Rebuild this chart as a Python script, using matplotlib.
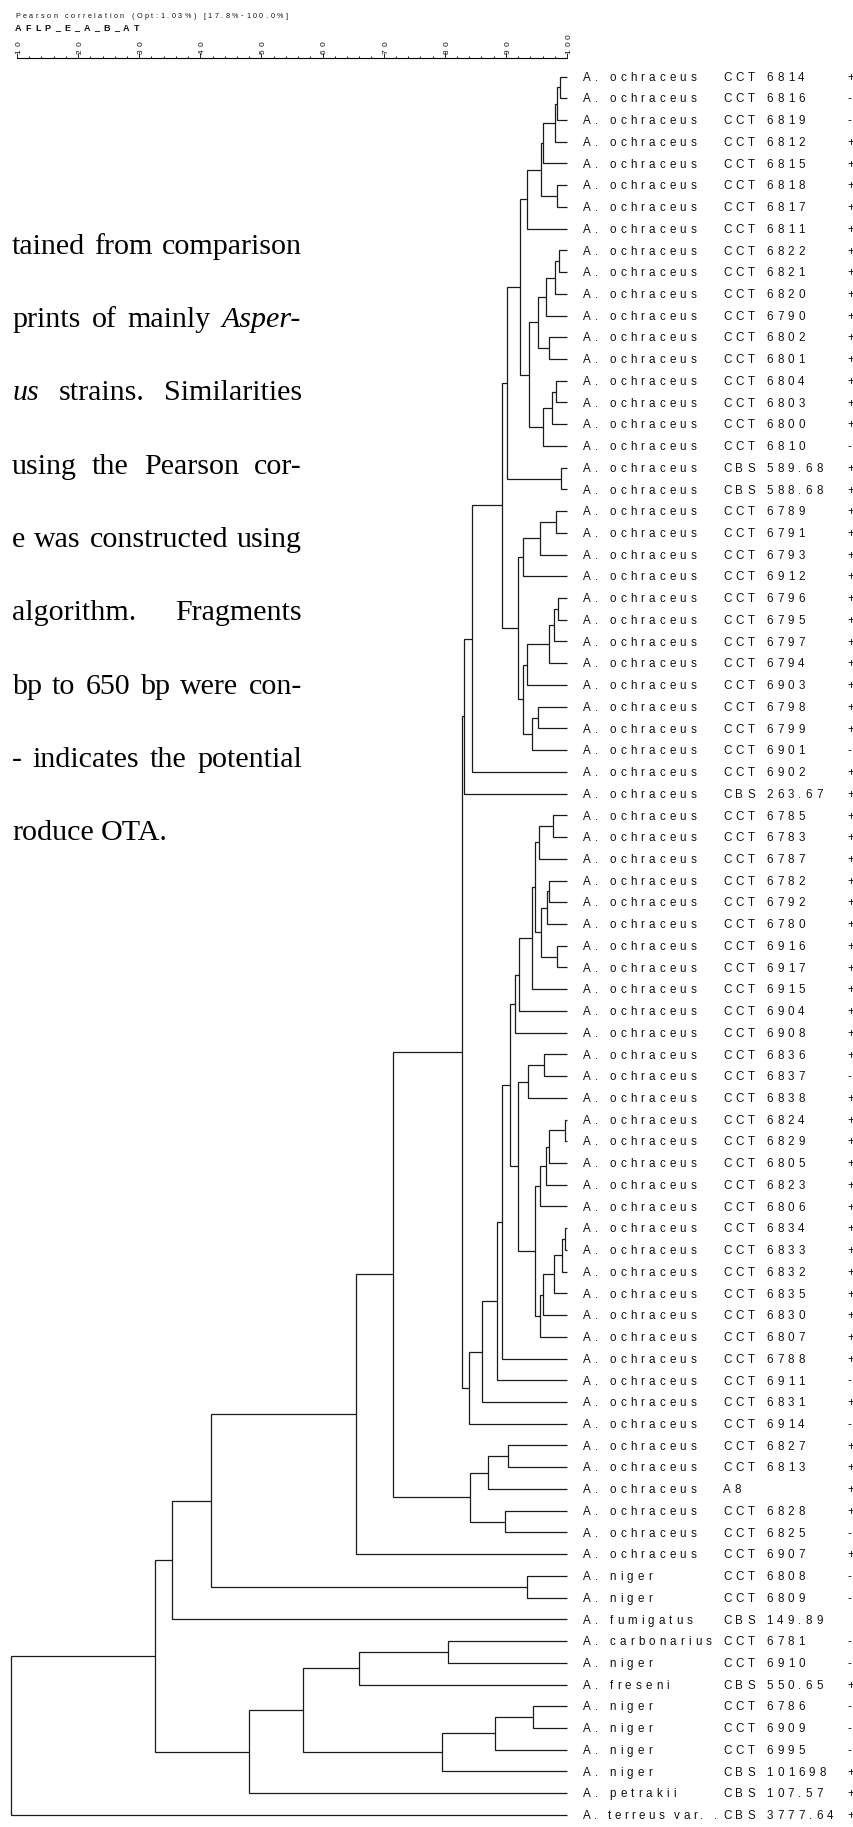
import matplotlib
matplotlib.use("Agg")
import matplotlib.pyplot as plt
from matplotlib import font_manager
from matplotlib.font_manager import FontProperties
from matplotlib.ft2font import FT2Font
from matplotlib.transforms import Affine2D

W, H, DPI = 854, 1827, 100
SANS = "Liberation Sans"
SERIF = "Liberation Serif"

# ---- leaves, top to bottom ----
species = ["A. ochraceus"] * 69 + [
    "A. niger", "A. niger", "A. fumigatus", "A. carbonarius", "A. niger",
    "A. freseni", "A. niger", "A. niger", "A. niger", "A. niger",
    "A. petrakii", "A. terreus var. ."]
strains = [
    "CCT 6814", "CCT 6816", "CCT 6819", "CCT 6812", "CCT 6815", "CCT 6818", "CCT 6817",
    "CCT 6811", "CCT 6822", "CCT 6821", "CCT 6820", "CCT 6790", "CCT 6802", "CCT 6801",
    "CCT 6804", "CCT 6803", "CCT 6800", "CCT 6810", "CBS 589.68", "CBS 588.68",
    "CCT 6789", "CCT 6791", "CCT 6793", "CCT 6912", "CCT 6796", "CCT 6795", "CCT 6797",
    "CCT 6794", "CCT 6903", "CCT 6798", "CCT 6799", "CCT 6901", "CCT 6902", "CBS 263.67",
    "CCT 6785", "CCT 6783", "CCT 6787", "CCT 6782", "CCT 6792", "CCT 6780", "CCT 6916",
    "CCT 6917", "CCT 6915", "CCT 6904", "CCT 6908", "CCT 6836", "CCT 6837", "CCT 6838",
    "CCT 6824", "CCT 6829", "CCT 6805", "CCT 6823", "CCT 6806", "CCT 6834", "CCT 6833",
    "CCT 6832", "CCT 6835", "CCT 6830", "CCT 6807", "CCT 6788", "CCT 6911", "CCT 6831",
    "CCT 6914", "CCT 6827", "CCT 6813", "A8", "CCT 6828", "CCT 6825", "CCT 6907",
    "CCT 6808", "CCT 6809", "CBS 149.89", "CCT 6781", "CCT 6910", "CBS 550.65",
    "CCT 6786", "CCT 6909", "CCT 6995", "CBS 101698", "CBS 107.57", "CBS 3777.64"]
ota = ["+", "-", "-", "+", "+", "+", "+", "+", "+", "+",
       "+", "+", "+", "+", "+", "+", "+", "-", "+", "+",
       "+", "+", "+", "+", "+", "+", "+", "+", "+", "+",
       "+", "-", "+", "+", "+", "+", "+", "+", "+", "+",
       "+", "+", "+", "+", "+", "+", "-", "+", "+", "+",
       "+", "+", "+", "+", "+", "+", "+", "+", "+", "+",
       "-", "+", "-", "+", "+", "+", "+", "-", "+", "-",
       "-", "", "-", "-", "+", "-", "-", "-", "+", "+", "+"]

# ---- cluster joins (leaf rows are 1-based ints), similarity in % ----
merge_name = ["a1", "a2", "a3", "a4", "a5", "a6", "a7", "b1", "b2", "b3", "b4", "b5",
              "c1", "c2", "c3", "b6", "a8", "d1", "a9", "e1", "e2", "e3", "f1", "f2",
              "f3", "f4", "g1", "g2", "f5", "e4", "a10", "a11", "a12",
              "h1", "h2", "i1", "i2", "j1", "i3", "h3", "h4", "h5", "h6", "k1", "k2",
              "m1", "m2", "m3", "m4", "n1", "n2", "n3", "n4", "n5", "m5", "k3", "h7",
              "h8", "h9", "h10", "h11", "big", "p1", "p2", "p3", "p4", "q1", "q2",
              "r1", "q3", "q4", "s1", "s2", "t1", "t2", "t3", "s3", "s4", "q5", "root"]
merge_left = [1, "a1", "a2", "a3", 6, "a4", "a6", 9, "b1", "b2", 13, "b3",
              15, "c1", "c2", "b5", "a7", 19, "a8", 21, "e1", "e2", 25, "f1",
              "f2", "f3", 30, "g1", "f4", "e3", "a9", "a10", "a11",
              35, "h1", 38, "i1", 41, "i2", "h2", "h3", "h4", "h5", 46, "k1",
              49, "m1", "m2", "m3", 54, "n1", "n2", "n3", "n4", "m4", "k2", "h6",
              "h7", "h8", "h9", "h10", "a12", 64, "p1", 67, "p2", "big", "q1",
              70, "q2", "q3", 73, "s1", 76, "t1", "t2", "s2", "s3", "q4", "q5"]
merge_right = [2, 3, 4, 5, 7, "a5", 8, 10, 11, 12, 14, "b4",
               16, 17, 18, "c3", "b6", 20, "d1", 22, 23, 24, 26, 27,
               28, 29, 31, 32, "g2", "f5", "e4", 33, 34,
               36, 37, 39, 40, 42, "j1", "i3", 43, 44, 45, 47, 48,
               50, 51, 52, 53, 55, 56, 57, 58, 59, "n5", "m5", "k3",
               60, 61, 62, 63, "h11", 65, 66, 68, "p3", "p4", 69,
               71, "r1", 72, 74, 75, 77, 78, 79, "t3", 80, "s4", 81]
merge_sim = [98.9, 98.4, 98.0, 96.0, 98.4, 95.7, 93.5, 98.7, 98.0, 96.5, 97.0, 95.2,
             98.2, 97.5, 96.0, 93.8, 92.3, 99.0, 90.2, 98.2, 95.6, 92.8, 98.5, 97.8,
             97.0, 93.5, 95.2, 94.3, 92.8, 92.0, 89.4, 84.4, 83.1,
             97.7, 95.5, 97.0, 96.7, 98.3, 95.8, 94.7, 94.3, 92.2, 91.5, 96.2, 93.7,
             99.7, 97.1, 96.6, 95.6, 99.6, 99.2, 97.9, 96.0, 95.6, 94.8, 92.0, 90.7,
             89.3, 88.5, 86.1, 84.0, 82.8, 90.3, 87.0, 89.9, 84.1, 71.5, 65.5,
             93.5, 41.8, 35.4, 80.6, 65.9, 94.5, 88.2, 79.6, 56.8, 47.9, 32.6, 9.1]

scale_major = [10, 20, 30, 40, 50, 60, 70, 80, 90, 100]
scale_minor = list(range(10, 101, 2))

header_1 = "Pearson correlation (Opt:1.03%) [17.8%-100.0%]"
header_2 = "AFLP_E_A_B_AT"

para_lines = ["tained from comparison", "prints of mainly Asper-",
              "us strains. Similarities", "using the Pearson cor-",
              "e was constructed using", "algorithm. Fragments",
              "bp to 650 bp were con-", "- indicates the potential",
              "roduce OTA."]
para_italic = ["Asper-", "us"]

# ---- helpers ----
PIX = Affine2D().scale(1, -1).translate(0, H)   # top-left pixel coords
_fonts = {}


def advances(s, size, weight="normal", family=SANS, style="normal"):
    key = (family, weight, style, size)
    if key not in _fonts:
        f = FT2Font(font_manager.findfont(
            FontProperties(family=family, weight=weight, style=style)))
        f.set_size(size, DPI)
        _fonts[key] = f
    f = _fonts[key]
    return [f.load_char(ord(c)).linearHoriAdvance / 65536 for c in s]


def track_for(s, size, width, weight="normal"):
    return (width - sum(advances(s, size, weight))) / (len(s) - 1)


def tracked(x, y, s, size, track, weight="normal", color="#111111"):
    for ch, a in zip(s, advances(s, size, weight)):
        if ch != " ":
            fig.text(x, y, ch, transform=PIX, fontsize=size, family=SANS,
                     weight=weight, color=color, ha="left", va="baseline")
        x += a + track


fig = plt.figure(figsize=(W / DPI, H / DPI), dpi=DPI)
fig.patch.set_facecolor("white")

# ---- dendrogram axes: x = similarity %, y = leaf row ----
X10, X100 = 17.0, 567.0
Y0, DY = 76.5, 21.73
ppu = (X100 - X10) / 90
ax = fig.add_axes([0, 0, X100 / W, 1])
ax.set_xlim(10 - X10 / ppu, 100)
ax.set_ylim((H - Y0) / DY, -Y0 / DY)
ax.axis("off")

pos = {i + 1: (100.0, float(i)) for i in range(len(strains))}
for name, l, r, s in zip(merge_name, merge_left, merge_right, merge_sim):
    (xl, yl), (xr, yr) = pos[l], pos[r]
    ax.plot([xl, s, s, xr], [yl, yl, yr, yr], color="#1a1a1a", lw=0.9,
            solid_joinstyle="miter", solid_capstyle="butt", clip_on=False)
    pos[name] = (s, (yl + yr) / 2)

# ---- similarity scale ----
SCALE_Y = 58
sax = fig.add_axes([0, 1 - SCALE_Y / H - 0.0002, X100 / W, 0.0002])
sax.set_xlim(ax.get_xlim())
sax.patch.set_visible(False)
for side in ("left", "right", "bottom"):
    sax.spines[side].set_visible(False)
sax.spines["top"].set_bounds(10, 100)
sax.spines["top"].set_linewidth(0.8)
sax.xaxis.tick_top()
sax.set_xticks(scale_major)
sax.set_xticks(scale_minor, minor=True)
sax.set_yticks([])
sax.tick_params(axis="x", which="major", direction="out", length=3.5, width=0.6,
                labeltop=False, labelbottom=False)
sax.tick_params(axis="x", which="minor", direction="out", length=1.6, width=0.6)

lab_size = 6.0
for v in scale_major:
    xd = sax.transData.transform((v, 0))[0]
    y = SCALE_Y - 4.5
    s = str(v)
    for ch, a in zip(s, advances(s, lab_size)):
        fig.text(xd + 2.0, y, ch, transform=PIX, fontsize=lab_size, family=SANS,
                 rotation=90, rotation_mode="anchor", ha="left", va="center",
                 color="#111111")
        y -= a + 2.4

# ---- headers ----
tracked(15, 17.5, header_1, 5.2, track_for(header_1, 5.2, 273))
tracked(15, 31, header_2, 6.5, track_for(header_2, 6.5, 124, "bold"), weight="bold")

# ---- leaf labels ----
LS = 8.35
ltrack = track_for("A. ochraceus", LS, 113)
for i, (sp, st, o) in enumerate(zip(species, strains, ota)):
    yb = H - ax.transData.transform((100, i))[1] + 4.2
    tracked(583, yb, sp, LS, min(ltrack, track_for(sp, LS, 134)))
    tracked(723, yb, st, LS, ltrack)
    if o:
        tracked(847, yb, o, LS, ltrack)

# ---- page text cut off by the figure's left edge ----
PS = 21.6
L, R = 12, 302
for k, line in enumerate(para_lines):
    yc = 246.7 + k * 73.3
    words = line.split(" ")
    styles = ["italic" if w in para_italic else "normal" for w in words]
    widths = [sum(advances(w, PS, family=SERIF, style=st)) for w, st in zip(words, styles)]
    if k == len(para_lines) - 1:
        gap = sum(advances(" ", PS, family=SERIF))
    else:
        gap = (R - L - sum(widths)) / (len(words) - 1)
    x = L
    for w, st, wd in zip(words, styles, widths):
        fig.text(x, yc, w, transform=PIX, fontsize=PS, family=SERIF, style=st,
                 ha="left", va="center", color="black")
        x += wd + gap

fig.savefig("out.png", dpi=DPI, facecolor="white")
